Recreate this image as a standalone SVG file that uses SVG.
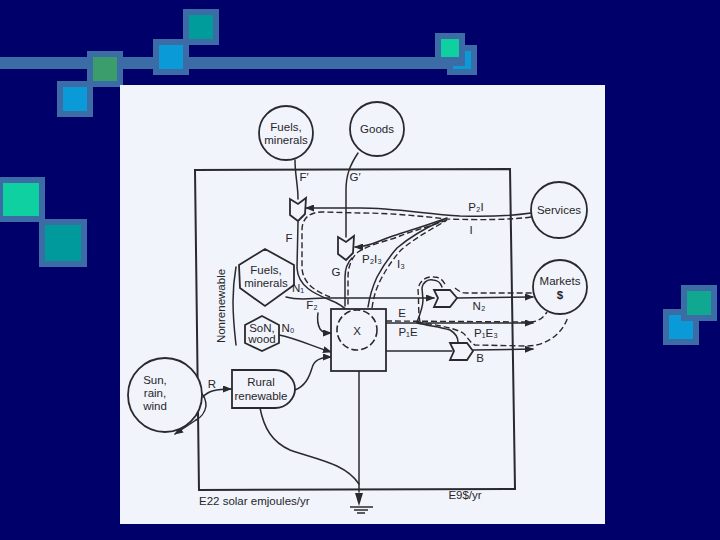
<svg xmlns="http://www.w3.org/2000/svg" width="720" height="540" viewBox="0 0 720 540">
<style>
.o{fill:#3b6ca6}
.t{fill:#009c9c}.b{fill:#0a9ad8}.g{fill:#3b9c6c}.m{fill:#0fd0a0}.k{fill:#009a9c}
.n{fill:#f2f4fb;stroke:#2a2a2e;stroke-width:1.8}
.f{fill:none;stroke:#2a2a2e;stroke-width:1.5;stroke-linecap:round}
.d{fill:none;stroke:#2a2a2e;stroke-width:1.4;stroke-dasharray:6 3}
.a{marker-end:url(#h)}
text{font-family:"Liberation Sans",Arial,sans-serif;font-size:11.5px;fill:#26262a;text-anchor:middle}
.s{text-anchor:start}
</style>
<defs>
<marker id="h" markerWidth="9" markerHeight="7" refX="8" refY="3.5" orient="auto" markerUnits="userSpaceOnUse"><path d="M0 0L9 3.5L0 7Z" fill="#2a2a2e"/></marker>
</defs>
<rect width="720" height="540" fill="#00006a"/>
<g id="decor">
<rect class="o" x="0" y="57" width="452" height="12"/>
<rect class="o" x="183" y="9" width="36" height="36"/><rect class="t" x="189" y="15" width="24" height="24"/>
<rect class="o" x="153" y="39" width="36" height="36"/><rect class="b" x="159" y="45" width="24" height="24"/>
<rect class="o" x="57" y="81" width="36" height="36"/><rect class="b" x="63" y="87" width="24" height="24"/>
<rect class="o" x="87" y="51" width="36" height="36"/><rect class="g" x="93" y="57" width="24" height="24"/>
<rect class="o" x="39" y="219" width="48" height="48"/><rect class="k" x="45" y="225" width="36" height="36"/>
<rect class="o" x="0" y="177" width="45" height="45"/><rect class="m" x="3" y="183" width="36" height="33"/>
<rect class="o" x="447" y="45" width="30" height="30"/><rect class="b" x="453" y="51" width="18" height="18"/>
<rect class="o" x="435" y="33" width="30" height="33"/><rect class="m" x="441" y="39" width="18" height="18"/>
<rect class="o" x="663" y="309" width="36" height="36"/><rect class="b" x="669" y="315" width="24" height="24"/>
<rect class="o" x="681" y="285" width="36" height="36"/><rect fill="#10a890" x="687" y="291" width="24" height="24"/>
</g>
<rect id="paper" x="120" y="85" width="485" height="439" fill="#f2f4fb"/>
<path id="boundary" d="M195 170L510 169L515 489L199 490Z" fill="none" stroke="#2a2a2e" stroke-width="2"/>
<g id="connectors">
<path class="f" d="M295 160C295 175 298 185 298 199"/>
<path class="f" d="M358 153C350 165 346 175 346 190L346 237"/>
<path class="f a" d="M531 213C510 216 490 217 460 216C425 214 395 208 360 208L306 208"/>
<path class="d" d="M531 217C510 220 480 220 447 219C420 216 390 213 360 213L322 212C310 212 302 218 302 230L302 268C303 285 318 292 330 297"/>
<path class="f" d="M298 222L297 268C298 288 318 295 330 300C338 303 345 308 350 313"/>
<path class="f a" d="M447 218C425 226 405 232 390 237C378 241 370 247 355 247"/>
<path class="d" d="M447 220C425 228 412 231 400 236C388 241 370 244 358 252C351 258 348 268 348 277L348 307"/>
<path class="f" d="M352 258C347 263 345 270 345 277L345 306"/>
<path class="f" d="M368 307C370 294 372 288 377 277C384 264 390 256 397 248C412 235 430 226 443 220"/>
<path class="d" d="M372 308C374 295 376 289 381 279C388 266 394 258 401 250C416 237 434 228 447 220"/>
<path class="f a" d="M286 297C300 301 312 298 325 298L434 298"/>
<path class="f a" d="M457 298L533 297"/>
<path class="d" d="M455 288C459 291 461 293 466 293L532 293"/>
<path class="f" d="M417 322C421 312 423 306 423 300L422 288C423 282 428 279 433 280C438 280 441 284 442 287"/>
<path class="d" d="M420 322C418 312 419 300 418 290C419 280 427 276 434 277C441 277 443 281 445 284"/>
<path class="f a" d="M386 323L533 323"/>
<path class="d" d="M386 321L530 322C538 322 543 318 547 312"/>
<path class="f" d="M417 323C430 326 441 327 450 330C455 333 458 337 458 342"/>
<path class="d" d="M417 322C435 325 452 327 463 333C468 337 469 342 475 345L527 346C545 346 562 335 568 317"/>
<path class="f a" d="M473 350L533 349"/>
<path class="f" d="M386 351L452 351"/>
<path class="f a" d="M318 313C317 319 318 325 320 329C323 333 326 333 331 333"/>
<path class="f a" d="M279 335C295 338 312 346 331 352"/>
<path class="f a" d="M295 390C305 386 309 378 312 368C314 360 320 357 331 357"/>
<path class="f" d="M185 387C200 387 206 396 206 406C205 413 200 418 196 420"/>
<path class="f a" d="M196 420L175 434"/>
<path class="f a" d="M203 397C208 391 216 389 231 389"/>
<path class="f" d="M260 408C264 428 272 442 290 450C315 459 345 463 359 484"/>
<path class="f" d="M359 371L359 492"/>
<path d="M355 493L363 493L359 506Z" fill="#2a2a2e"/>
</g>
<g id="ground" stroke="#2a2a2e" stroke-width="1.5"><path d="M350 507L373 507M354 510L368 510M357 513L365 513" fill="none"/></g>
<g id="fuels-source"><circle class="n" cx="286" cy="133" r="27"/><text x="286" y="131">Fuels,</text><text x="286" y="144">minerals</text></g>
<g id="goods"><circle class="n" cx="377" cy="129" r="27"/><text x="377" y="133">Goods</text></g>
<g id="services"><circle class="n" cx="559" cy="210" r="28"/><text x="559" y="214">Services</text></g>
<g id="markets"><circle class="n" cx="560" cy="287" r="27"/><text x="560" y="285">Markets</text><text x="560" y="299" font-weight="bold">$</text></g>
<g id="sun"><circle class="n" cx="165" cy="395" r="37"/><text x="155" y="384">Sun,</text><text x="155" y="397">rain,</text><text x="155" y="410">wind</text></g>
<g id="fuels-store"><path class="n" d="M265 249L294 265L294 285L265 306L240 288L239 265Z"/><text x="266" y="274">Fuels,</text><text x="266" y="287">minerals</text></g>
<g id="soil-wood"><path class="n" d="M262 316L279 325L279 343L262 351L245 343L245 325Z"/><text x="262" y="332">SoN,</text><text x="262" y="343">wood</text></g>
<g id="nonrenewable"><path class="f" d="M236 267C232 290 232 310 236 345"/><text transform="translate(225 306) rotate(-90)" font-size="11">Nonrenewable</text></g>
<g id="rural"><path class="n" d="M232 370L275 370C287 370 295 380 295 389C295 398 287 408 275 408L232 408Z"/><text x="261" y="386">Rural</text><text x="261" y="400">renewable</text></g>
<g id="x-box"><rect class="n" x="331" y="309" width="55" height="62"/><circle cx="357" cy="330" r="20" fill="none" stroke="#2a2a2e" stroke-width="1.6" stroke-dasharray="7 3"/><text x="357" y="335">X</text></g>
<g id="tank-f"><path class="n" d="M290 199L298 204L306 198L305 214L298 221L290 215Z"/></g>
<g id="tank-g"><path class="n" d="M338 237L346 242L354 236L353 253L346 260L338 254Z"/></g>
<g id="tank-n2"><path class="n" d="M434 290L450 290L457 298L450 307L434 307L438 298Z"/></g>
<g id="tank-b"><path class="n" d="M450 343L467 343L473 351L467 360L450 360L454 351Z"/></g>
<g id="labels">
<text x="304" y="181">F′</text><text x="355" y="181">G′</text><text x="289" y="242">F</text><text x="336" y="276">G</text>
<text x="476" y="211">P₂I</text><text x="471" y="234">I</text><text x="372" y="263">P₂I₃</text><text x="401" y="268">I₃</text>
<text x="298" y="292">N₁</text><text x="312" y="309">F₂</text><text x="288" y="332">N₀</text><text x="212" y="388">R</text>
<text x="402" y="317">E</text><text x="408" y="336">P₁E</text><text x="486" y="337">P₁E₃</text><text x="479" y="310">N₂</text><text x="480" y="362">B</text>
<text class="s" x="199" y="505">E22 solar emjoules/yr</text><text x="465" y="499">E9$/yr</text>
</g>
</svg>
